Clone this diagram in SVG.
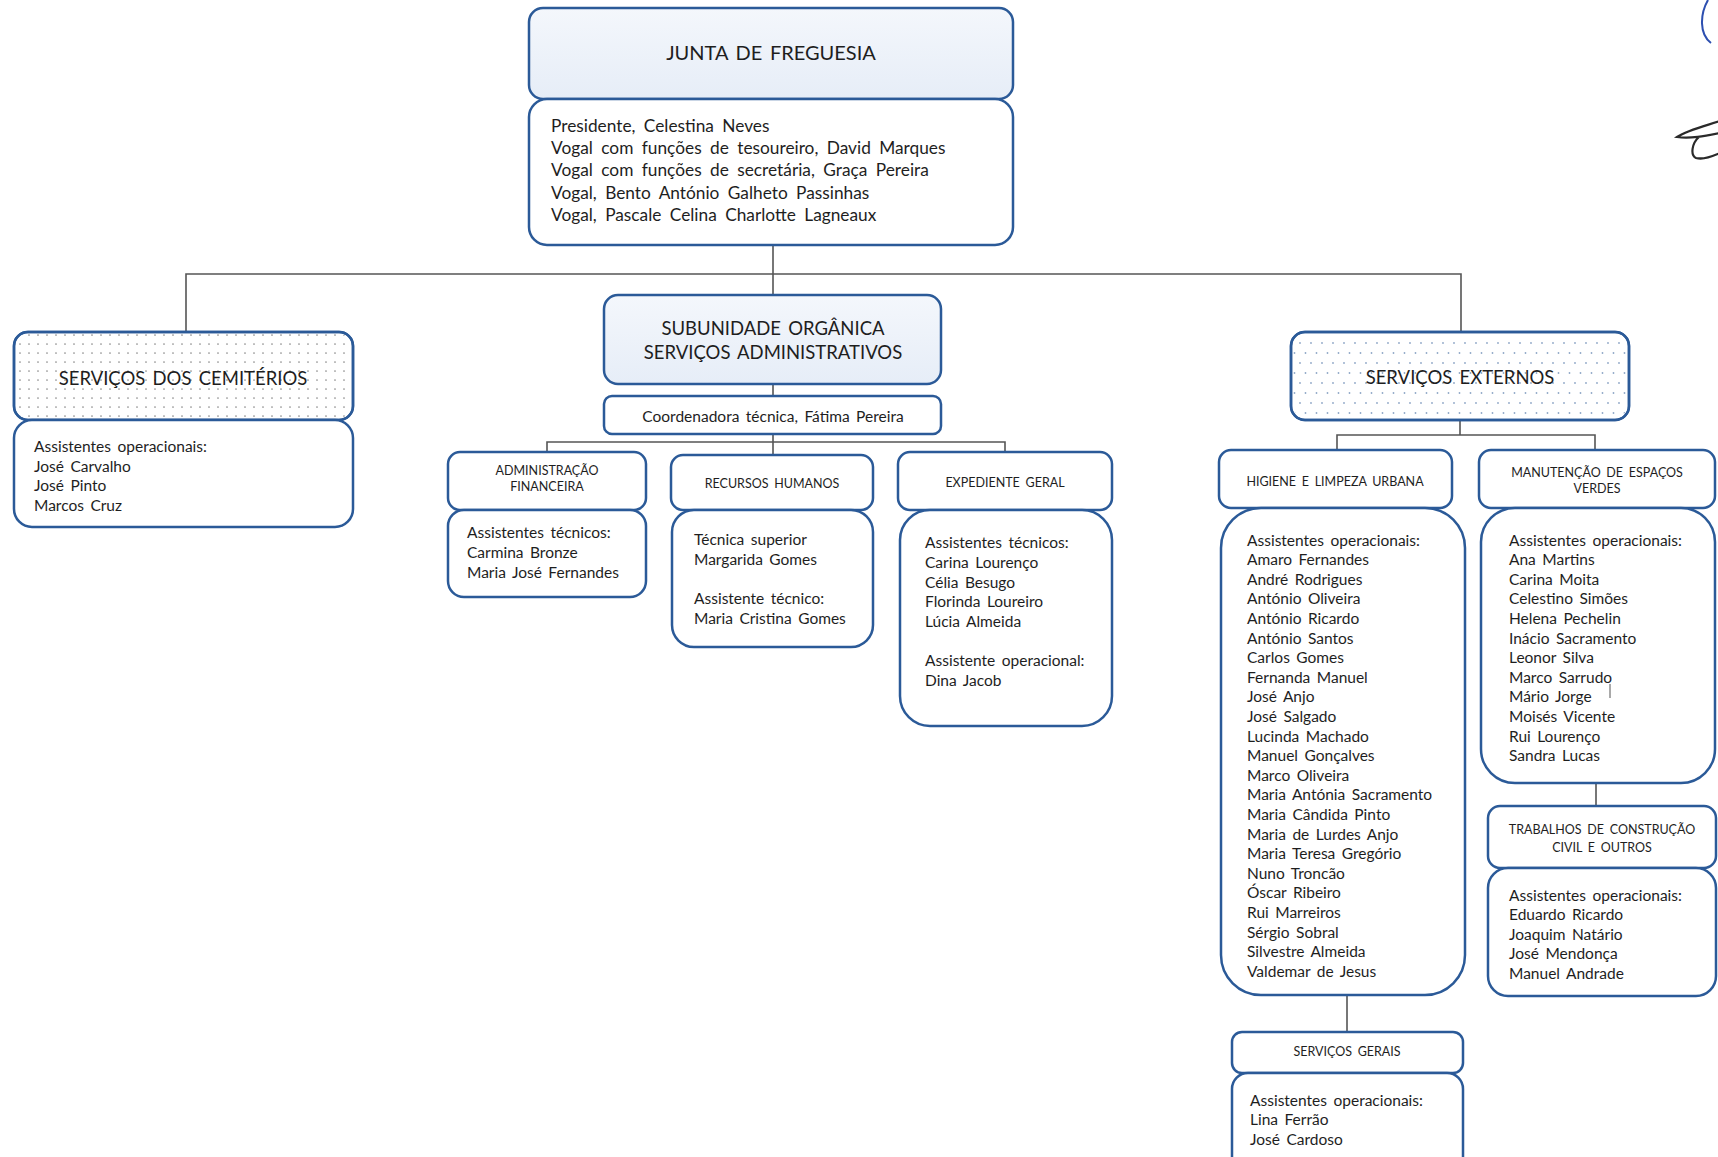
<svg xmlns="http://www.w3.org/2000/svg" width="1718" height="1157" viewBox="0 0 1718 1157">
<defs>
<linearGradient id="hdrGrad" x1="0" y1="0" x2="0" y2="1">
<stop offset="0" stop-color="#f4f7fc"/>
<stop offset="1" stop-color="#e6edf7"/>
</linearGradient>
<pattern id="dotsGray" width="9" height="9" patternUnits="userSpaceOnUse">
<circle cx="2" cy="2" r="0.85" fill="#8a8a8a"/>
</pattern>
<pattern id="dotsBlue" width="11" height="20" patternUnits="userSpaceOnUse">
<circle cx="2" cy="3" r="0.9" fill="#8ea6c6"/>
<circle cx="7.5" cy="13" r="0.9" fill="#8ea6c6"/>
</pattern>
</defs>
<style>
.box{stroke:#2b5a98;stroke-width:2.5;fill:#fff}
.grad{fill:url(#hdrGrad)}
.dg{fill:url(#dotsGray)}
.db{fill:url(#dotsBlue)}
.conn{stroke:#555;stroke-width:1.6;fill:none}
text{font-family:Lato,"Open Sans","Liberation Sans",sans-serif;fill:#1e1e1e;word-spacing:2.5px}
.t1{font-size:20px}
.t2{font-size:18.5px}
.t3{font-size:12.5px}
.b{font-size:15.5px}
.bj{font-size:17.3px;word-spacing:4px}
.c{text-anchor:middle}
</style>
<rect width="1718" height="1157" fill="#fff"/>

<g id="connectors">
<path class="conn" d="M773 245 V295"/>
<path class="conn" d="M186 332 V274 H1461 V332"/>
<path class="conn" d="M773 384 V396"/>
<path class="conn" d="M773 434 V455"/>
<path class="conn" d="M547 452 V442 H1005 V452"/>
<path class="conn" d="M1460 420 V435"/>
<path class="conn" d="M1337 450 V435 H1595 V450"/>
<path class="conn" d="M1596 783 V806"/>
<path class="conn" d="M1347 995 V1032"/>
</g>

<g id="junta">
<rect class="box grad" x="529" y="8" width="484" height="91" rx="14"/>
<rect class="box" x="529" y="99" width="484" height="146" rx="18"/>
<text class="t1 c" x="771" y="60">JUNTA DE FREGUESIA</text>
<text class="bj" x="551" y="132">Presidente, Celestina Neves</text>
<text class="bj" x="551" y="154">Vogal com funções de tesoureiro, David Marques</text>
<text class="bj" x="551" y="176">Vogal com funções de secretária, Graça Pereira</text>
<text class="bj" x="551" y="199">Vogal, Bento António Galheto Passinhas</text>
<text class="bj" x="551" y="221">Vogal, Pascale Celina Charlotte Lagneaux</text>
</g>

<g id="cemiterios">
<rect class="box" x="14" y="332" width="339" height="88" rx="14"/>
<rect class="dg" x="16" y="334" width="335" height="84" rx="12"/>
<rect x="14" y="332" width="339" height="88" rx="14" fill="none" stroke="#2b5a98" stroke-width="2.5"/>
<rect class="box" x="14" y="420" width="339" height="107" rx="18"/>
<text class="t2 c" x="183" y="385">SERVIÇOS DOS CEMITÉRIOS</text>
<text class="b" x="34" y="452">Assistentes operacionais:</text>
<text class="b" x="34" y="472">José Carvalho</text>
<text class="b" x="34" y="491">José Pinto</text>
<text class="b" x="34" y="511">Marcos Cruz</text>
</g>

<g id="subunidade">
<rect class="box grad" x="604" y="295" width="337" height="89" rx="14"/>
<text class="t2 c" x="773" y="335">SUBUNIDADE ORGÂNICA</text>
<text class="t2 c" x="773" y="359">SERVIÇOS ADMINISTRATIVOS</text>
</g>

<g id="coordenadora">
<rect class="box" x="604" y="396" width="337" height="38" rx="8"/>
<text class="b c" x="773" y="422">Coordenadora técnica, Fátima Pereira</text>
</g>

<g id="adm-financeira">
<rect class="box" x="448" y="452" width="198" height="58" rx="12"/>
<rect class="box" x="448" y="510" width="198" height="87" rx="16"/>
<text class="t3 c" x="547" y="475">ADMINISTRAÇÃO</text>
<text class="t3 c" x="547" y="491">FINANCEIRA</text>
<text class="b" x="467" y="538">Assistentes técnicos:</text>
<text class="b" x="467" y="558">Carmina Bronze</text>
<text class="b" x="467" y="578">Maria José Fernandes</text>
</g>

<g id="recursos-humanos">
<rect class="box" x="671" y="455" width="202" height="55" rx="12"/>
<rect class="box" x="672" y="510" width="201" height="137" rx="22"/>
<text class="t3 c" x="772" y="487.5">RECURSOS HUMANOS</text>
<text class="b" x="694" y="545">Técnica superior</text>
<text class="b" x="694" y="565">Margarida Gomes</text>
<text class="b" x="694" y="604">Assistente técnico:</text>
<text class="b" x="694" y="624">Maria Cristina Gomes</text>
</g>

<g id="expediente-geral">
<rect class="box" x="898" y="452" width="214" height="58" rx="12"/>
<rect class="box" x="900" y="510" width="212" height="216" rx="30"/>
<text class="t3 c" x="1005" y="486.5">EXPEDIENTE GERAL</text>
<text class="b" x="925" y="548">Assistentes técnicos:</text>
<text class="b" x="925" y="568">Carina Lourenço</text>
<text class="b" x="925" y="588">Célia Besugo</text>
<text class="b" x="925" y="607">Florinda Loureiro</text>
<text class="b" x="925" y="627">Lúcia Almeida</text>
<text class="b" x="925" y="666">Assistente operacional:</text>
<text class="b" x="925" y="686">Dina Jacob</text>
</g>

<g id="servicos-externos">
<rect class="box" x="1291" y="332" width="338" height="88" rx="14"/>
<rect class="db" x="1293" y="334" width="334" height="84" rx="12"/>
<rect x="1291" y="332" width="338" height="88" rx="14" fill="none" stroke="#2b5a98" stroke-width="2.5"/>
<text class="t2 c" x="1460" y="384">SERVIÇOS EXTERNOS</text>
</g>

<g id="higiene">
<rect class="box" x="1219" y="450" width="233" height="58" rx="12"/>
<rect class="box" x="1221" y="508" width="244" height="487" rx="40"/>
<text class="t3 c" x="1335" y="485.5">HIGIENE E LIMPEZA URBANA</text>
<text class="b" x="1247" y="545.5">Assistentes operacionais:</text>
<text class="b" x="1247" y="565.1">Amaro Fernandes</text>
<text class="b" x="1247" y="584.7">André Rodrigues</text>
<text class="b" x="1247" y="604.3">António Oliveira</text>
<text class="b" x="1247" y="623.9">António Ricardo</text>
<text class="b" x="1247" y="643.5">António Santos</text>
<text class="b" x="1247" y="663.1">Carlos Gomes</text>
<text class="b" x="1247" y="682.7">Fernanda Manuel</text>
<text class="b" x="1247" y="702.3">José Anjo</text>
<text class="b" x="1247" y="721.9">José Salgado</text>
<text class="b" x="1247" y="741.5">Lucinda Machado</text>
<text class="b" x="1247" y="761.1">Manuel Gonçalves</text>
<text class="b" x="1247" y="780.7">Marco Oliveira</text>
<text class="b" x="1247" y="800.3">Maria Antónia Sacramento</text>
<text class="b" x="1247" y="819.9">Maria Cândida Pinto</text>
<text class="b" x="1247" y="839.5">Maria de Lurdes Anjo</text>
<text class="b" x="1247" y="859.1">Maria Teresa Gregório</text>
<text class="b" x="1247" y="878.7">Nuno Troncão</text>
<text class="b" x="1247" y="898.3">Óscar Ribeiro</text>
<text class="b" x="1247" y="917.9">Rui Marreiros</text>
<text class="b" x="1247" y="937.5">Sérgio Sobral</text>
<text class="b" x="1247" y="957.1">Silvestre Almeida</text>
<text class="b" x="1247" y="976.7">Valdemar de Jesus</text>
</g>

<g id="manutencao">
<rect class="box" x="1479" y="450" width="236" height="58" rx="12"/>
<rect class="box" x="1481" y="508" width="234" height="275" rx="34"/>
<text class="t3 c" x="1597" y="477">MANUTENÇÃO DE ESPAÇOS</text>
<text class="t3 c" x="1597" y="493">VERDES</text>
<text class="b" x="1509" y="545.5">Assistentes operacionais:</text>
<text class="b" x="1509" y="565.1">Ana Martins</text>
<text class="b" x="1509" y="584.7">Carina Moita</text>
<text class="b" x="1509" y="604.3">Celestino Simões</text>
<text class="b" x="1509" y="623.9">Helena Pechelin</text>
<text class="b" x="1509" y="643.5">Inácio Sacramento</text>
<text class="b" x="1509" y="663.1">Leonor Silva</text>
<text class="b" x="1509" y="682.7">Marco Sarrudo</text>
<text class="b" x="1509" y="702.3">Mário Jorge</text>
<text class="b" x="1509" y="721.9">Moisés Vicente</text>
<text class="b" x="1509" y="741.5">Rui Lourenço</text>
<text class="b" x="1509" y="761.1">Sandra Lucas</text>
<path d="M1610 684 V698" stroke="#555" stroke-width="1"/>
</g>

<g id="trabalhos">
<rect class="box" x="1488" y="806" width="228" height="62" rx="12"/>
<rect class="box" x="1488" y="868" width="228" height="128" rx="20"/>
<text class="t3 c" x="1602" y="834">TRABALHOS DE CONSTRUÇÃO</text>
<text class="t3 c" x="1602" y="852">CIVIL E OUTROS</text>
<text class="b" x="1509" y="900.5">Assistentes operacionais:</text>
<text class="b" x="1509" y="920">Eduardo Ricardo</text>
<text class="b" x="1509" y="939.5">Joaquim Natário</text>
<text class="b" x="1509" y="959">José Mendonça</text>
<text class="b" x="1509" y="978.5">Manuel Andrade</text>
</g>

<g id="servicos-gerais">
<rect class="box" x="1232" y="1032" width="231" height="41" rx="10"/>
<rect class="box" x="1232" y="1073" width="231" height="110" rx="16"/>
<text class="t3 c" x="1347" y="1055.5">SERVIÇOS GERAIS</text>
<text class="b" x="1250" y="1105.5">Assistentes operacionais:</text>
<text class="b" x="1250" y="1125">Lina Ferrão</text>
<text class="b" x="1250" y="1145">José Cardoso</text>
</g>

<g id="signatures">
<path d="M1708 0 C1700 14 1699 34 1711 43" fill="none" stroke="#2d4fb0" stroke-width="2"/>
<path d="M1720 121 C1705 126 1688 130 1677 137 C1690 139 1705 136 1720 133 M1699 137 C1692 143 1690 155 1696 158 C1704 160 1713 156 1720 153" fill="none" stroke="#2a2a2a" stroke-width="2.2"/>
</g>
</svg>
